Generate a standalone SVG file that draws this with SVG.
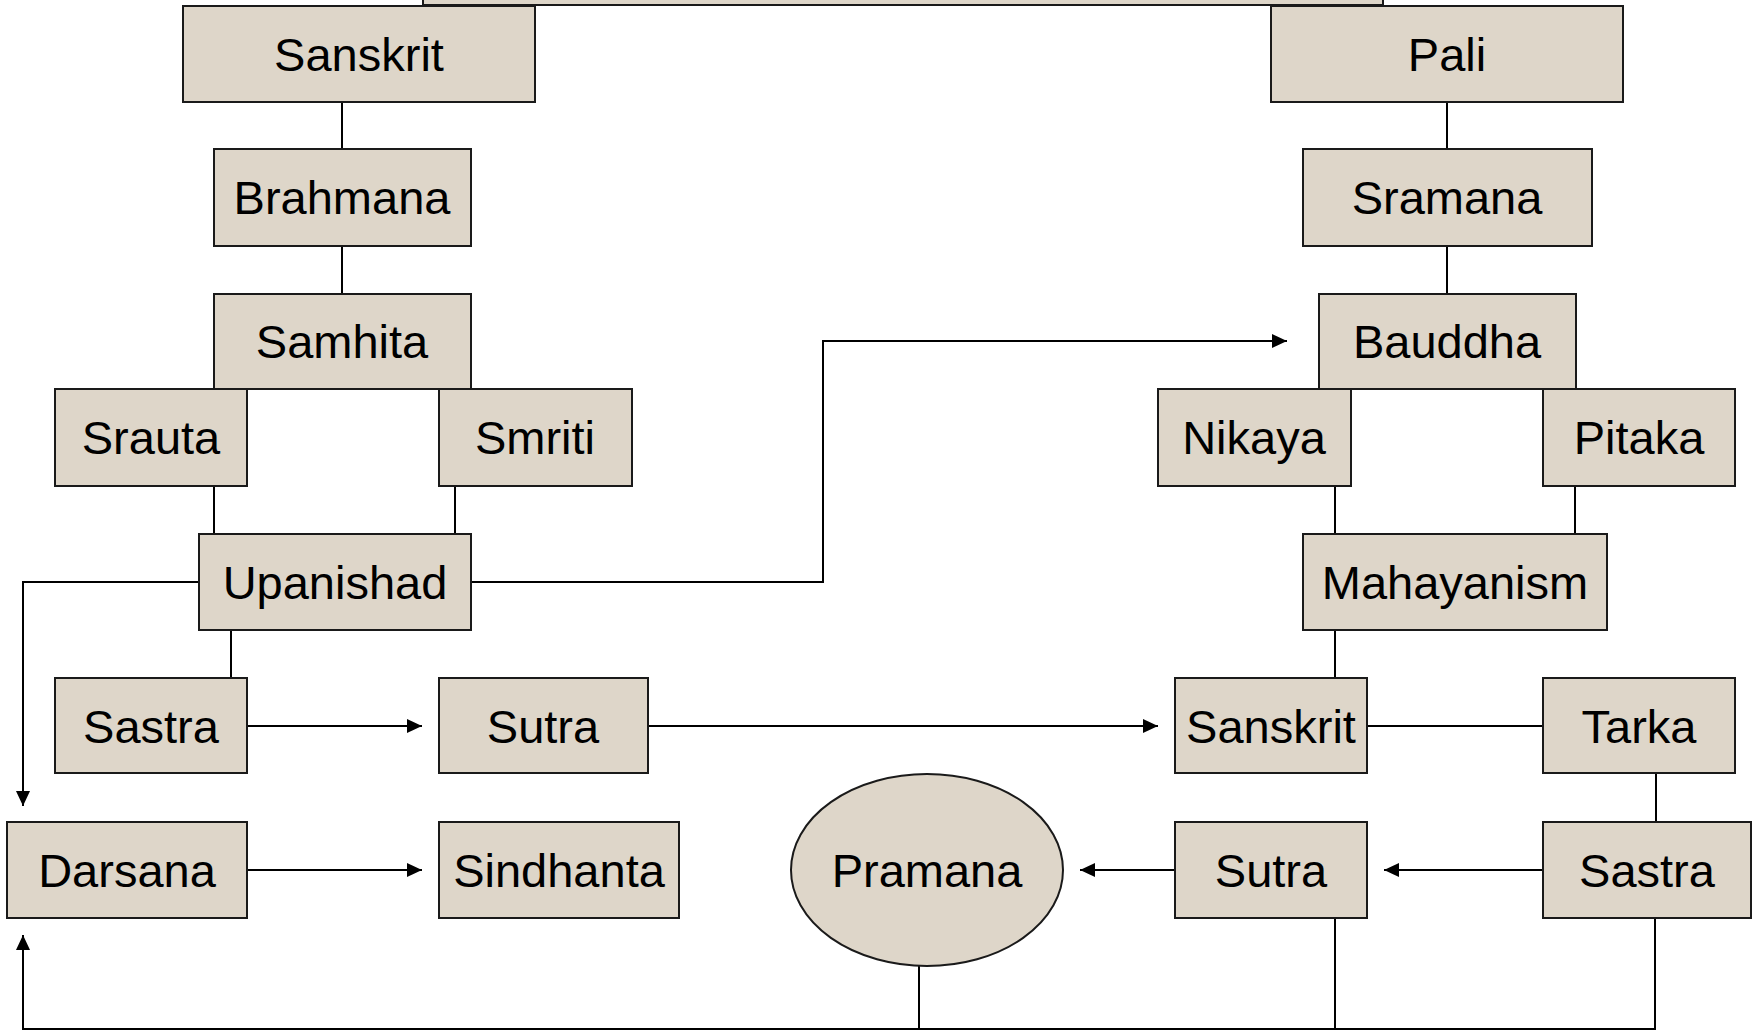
<svg xmlns="http://www.w3.org/2000/svg" width="1760" height="1030" viewBox="0 0 1760 1030">
<style>
.box{fill:#DED6C9;stroke:#1a1a1a;stroke-width:2}
.lbl{font-family:"Liberation Sans",Arial,sans-serif;font-size:47px;fill:#000;text-anchor:middle}
.ln{fill:none;stroke:#000;stroke-width:2}
.arr{fill:none;stroke:#000;stroke-width:2;marker-end:url(#ah)}
</style>
<defs>
<marker id="ah" viewBox="0 0 15 14" refX="15" refY="7" markerWidth="15" markerHeight="14" markerUnits="userSpaceOnUse" orient="auto">
<path d="M0,0 L15,7 L0,14 Z" fill="#000"/>
</marker>
</defs>
<rect width="1760" height="1030" fill="#fff"/>

<g id="connectors">
<line class="ln" x1="342" y1="102" x2="342" y2="149"/>
<line class="ln" x1="342" y1="246" x2="342" y2="294"/>
<line class="ln" x1="1447" y1="102" x2="1447" y2="149"/>
<line class="ln" x1="1447" y1="246" x2="1447" y2="294"/>
<line class="ln" x1="214" y1="486" x2="214" y2="534"/>
<line class="ln" x1="455" y1="486" x2="455" y2="534"/>
<line class="ln" x1="1335" y1="486" x2="1335" y2="534"/>
<line class="ln" x1="1575" y1="486" x2="1575" y2="534"/>
<line class="ln" x1="231" y1="630" x2="231" y2="678"/>
<line class="ln" x1="1335" y1="630" x2="1335" y2="678"/>
<line class="arr" x1="247" y1="726" x2="422" y2="726"/>
<line class="arr" x1="648" y1="726" x2="1158" y2="726"/>
<line class="ln" x1="1367" y1="726" x2="1543" y2="726"/>
<line class="ln" x1="1656" y1="773" x2="1656" y2="822"/>
<line class="arr" x1="1543" y1="870" x2="1384" y2="870"/>
<line class="arr" x1="1175" y1="870" x2="1080" y2="870"/>
<line class="arr" x1="247" y1="870" x2="422" y2="870"/>
<polyline class="arr" points="199,582 23,582 23,806"/>
<polyline class="arr" points="471,582 823,582 823,341 1287,341"/>
<polyline class="arr" points="1655,918 1655,1029 23,1029 23,935"/>
<line class="ln" x1="919" y1="966" x2="919" y2="1029"/>
<line class="ln" x1="1335" y1="918" x2="1335" y2="1029"/>
</g>

<g id="top"><rect class="box" x="423" y="-10" width="960" height="15"/></g>
<g id="sanskrit1"><rect class="box" x="183" y="6" width="352" height="96"/><text class="lbl" x="359" y="71">Sanskrit</text></g>
<g id="pali"><rect class="box" x="1271" y="6" width="352" height="96"/><text class="lbl" x="1447" y="71">Pali</text></g>
<g id="brahmana"><rect class="box" x="214" y="149" width="257" height="97"/><text class="lbl" x="342" y="214">Brahmana</text></g>
<g id="sramana"><rect class="box" x="1303" y="149" width="289" height="97"/><text class="lbl" x="1447" y="214">Sramana</text></g>
<g id="samhita"><rect class="box" x="214" y="294" width="257" height="95"/><text class="lbl" x="342" y="358">Samhita</text></g>
<g id="bauddha"><rect class="box" x="1319" y="294" width="257" height="95"/><text class="lbl" x="1447" y="358">Bauddha</text></g>
<g id="srauta"><rect class="box" x="55" y="389" width="192" height="97"/><text class="lbl" x="151" y="454">Srauta</text></g>
<g id="smriti"><rect class="box" x="439" y="389" width="193" height="97"/><text class="lbl" x="535" y="454">Smriti</text></g>
<g id="nikaya"><rect class="box" x="1158" y="389" width="193" height="97"/><text class="lbl" x="1254" y="454">Nikaya</text></g>
<g id="pitaka"><rect class="box" x="1543" y="389" width="192" height="97"/><text class="lbl" x="1639" y="454">Pitaka</text></g>
<g id="upanishad"><rect class="box" x="199" y="534" width="272" height="96"/><text class="lbl" x="335" y="599">Upanishad</text></g>
<g id="mahayanism"><rect class="box" x="1303" y="534" width="304" height="96"/><text class="lbl" x="1455" y="599">Mahayanism</text></g>
<g id="sastra1"><rect class="box" x="55" y="678" width="192" height="95"/><text class="lbl" x="151" y="743">Sastra</text></g>
<g id="sutra1"><rect class="box" x="439" y="678" width="209" height="95"/><text class="lbl" x="543" y="743">Sutra</text></g>
<g id="sanskrit2"><rect class="box" x="1175" y="678" width="192" height="95"/><text class="lbl" x="1271" y="743">Sanskrit</text></g>
<g id="tarka"><rect class="box" x="1543" y="678" width="192" height="95"/><text class="lbl" x="1639" y="743">Tarka</text></g>
<g id="darsana"><rect class="box" x="7" y="822" width="240" height="96"/><text class="lbl" x="127" y="887">Darsana</text></g>
<g id="sindhanta"><rect class="box" x="439" y="822" width="240" height="96"/><text class="lbl" x="559" y="887">Sindhanta</text></g>
<g id="pramana"><ellipse class="box" cx="927" cy="870" rx="136" ry="96"/><text class="lbl" x="927" y="887">Pramana</text></g>
<g id="sutra2"><rect class="box" x="1175" y="822" width="192" height="96"/><text class="lbl" x="1271" y="887">Sutra</text></g>
<g id="sastra2"><rect class="box" x="1543" y="822" width="208" height="96"/><text class="lbl" x="1647" y="887">Sastra</text></g>
</svg>
